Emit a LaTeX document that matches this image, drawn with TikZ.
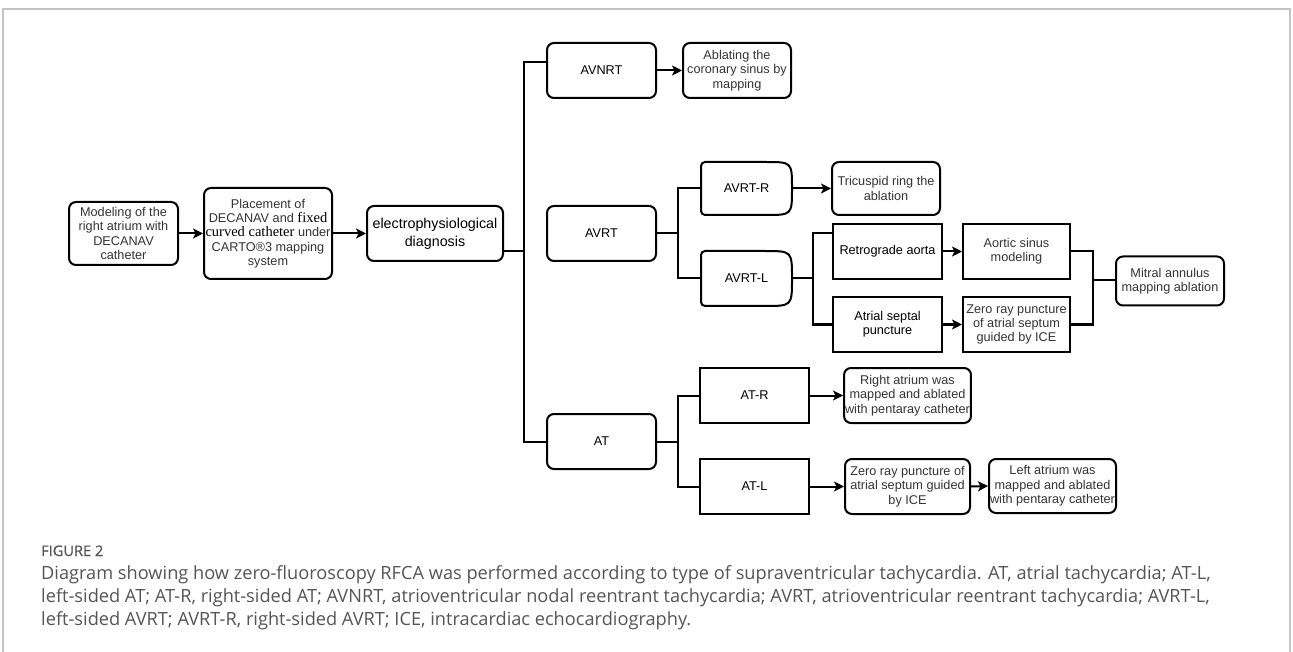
\documentclass[tikz,border=0pt]{standalone}
\usepackage{fontspec}
\setmainfont{Liberation Sans}
\newfontfamily\serifpart{Liberation Serif}
\newfontfamily\capfont{Open Sans}
\newfontfamily\capfontb[FakeBold=0.8]{Open Sans}
\usetikzlibrary{arrows.meta}
\definecolor{txtgray}{HTML}{333333}
\definecolor{capgray}{HTML}{555555}
\definecolor{framegray}{HTML}{C4C4C4}
\begin{document}
\begin{tikzpicture}[x=1pt,y=-1pt,
  base/.style={line width=2pt, align=center, inner sep=1pt, font=\fontsize{12.7}{14.3}\selectfont, text=black},
  rbox/.style={base, draw, rounded corners=7pt},
  sbox/.style={base, draw},
  dbox/.style={base, draw=none, outer sep=0pt},
  gtext/.style={text=txtgray},
  conn/.style={line width=2pt},
  arr/.style={conn, -{Stealth[length=10pt,width=10pt,inset=2.5pt]}},
  capfig/.style={font=\capfontb\fontsize{14.6}{16}\selectfont, text=capgray, inner sep=0pt},
  captext/.style={font=\capfont\fontsize{18.2}{20}\selectfont, text=capgray, inner sep=0pt}
]
\useasboundingbox (0,0) rectangle (1293,652);
\draw[framegray, line width=1.2pt] (3,652) -- (3,9) -- (1290,9) -- (1290,652);

% nodes
\node[rbox, gtext, minimum width=109pt, minimum height=63pt] (b1) at (123.5,233.5) {Modeling of the\\right atrium with\\DECANAV\\catheter};
\node[rbox, gtext, minimum width=128pt, minimum height=91pt] (b2) at (268,233.5) {Placement of\\DECANAV and {\serifpart\color{black}\fontsize{14.5}{14.3}\selectfont fixed}\\{\serifpart\color{black}\fontsize{14.5}{14.3}\selectfont curved catheter} under\\CARTO®3 mapping\\system};
\node[rbox, minimum width=136pt, minimum height=55pt, font=\fontsize{14.3}{17.7}\selectfont] (b3) at (435,233.5) {electrophysiological\\diagnosis};

\node[rbox, minimum width=109pt, minimum height=55pt] (avnrt) at (601.5,70.5) {AVNRT};
\node[rbox, gtext, minimum width=108pt, minimum height=55pt] (abl) at (737,70.5) {Ablating the\\coronary sinus by\\mapping};

\node[rbox, minimum width=109pt, minimum height=55pt] (avrt) at (601.5,233.5) {AVRT};
\node[dbox, minimum width=91pt, minimum height=53pt] (avrtr) at (746.5,188.5) {AVRT-R};
\node[dbox, minimum width=91pt, minimum height=55pt] (avrtl) at (746.5,278.5) {AVRT-L};
\node[rbox, gtext, minimum width=108pt, minimum height=53pt] (tri) at (886,188.5) {Tricuspid ring the\\ablation};
\node[sbox, minimum width=109pt, minimum height=55pt] (retro) at (887.5,251.5) {Retrograde aorta};
\node[sbox, minimum width=109pt, minimum height=55pt] (asp) at (887.5,324.5) {Atrial septal\\puncture};
\node[sbox, gtext, minimum width=107pt, minimum height=55pt] (aos) at (1016.5,251.5) {Aortic sinus\\modeling};
\node[sbox, gtext, minimum width=107pt, minimum height=55pt] (zr1) at (1016.5,324.5) {Zero ray puncture\\of atrial septum\\guided by ICE};
\node[rbox, gtext, minimum width=108pt, minimum height=49pt] (mitral) at (1170,281) {Mitral annulus\\mapping ablation};

\node[rbox, minimum width=109pt, minimum height=55pt] (at) at (601.5,441.5) {AT};
\node[sbox, minimum width=109pt, minimum height=55pt] (atr) at (754.5,395.5) {AT-R};
\node[sbox, minimum width=109pt, minimum height=55pt] (atl) at (754.5,486.5) {AT-L};
\node[rbox, gtext, minimum width=125pt, minimum height=55pt] (ra) at (907.5,395.5) {Right atrium was\\mapped and ablated\\with pentaray catheter};
\node[rbox, gtext, minimum width=125pt, minimum height=55pt] (zr2) at (907.5,486.5) {Zero ray puncture of\\atrial septum guided\\by ICE};
\node[rbox, gtext, minimum width=127pt, minimum height=54pt] (la) at (1052.5,486) {Left atrium was\\mapped and ablated\\with pentaray catheter};

% delay shapes
\draw[line width=2pt] ([xshift=-26.5pt]avrtr.north east) .. controls (avrtr.north east) .. (avrtr.east) .. controls (avrtr.south east) .. ([xshift=-26.5pt]avrtr.south east) [rounded corners=4pt] -- (avrtr.south west) -- (avrtr.north west) -- ([xshift=-26.5pt]avrtr.north east);
\draw[line width=2pt] ([xshift=-27.5pt]avrtl.north east) .. controls (avrtl.north east) .. (avrtl.east) .. controls (avrtl.south east) .. ([xshift=-27.5pt]avrtl.south east) [rounded corners=4pt] -- (avrtl.south west) -- (avrtl.north west) -- ([xshift=-27.5pt]avrtl.north east);

% connectors
\draw[arr] (b1.east) -- (b2.west);
\draw[arr] (b2.east) -- (b3.west);
\coordinate (tk) at (524,251);
\draw[conn] ([yshift=-17.5pt]b3.east) -- (tk);
\draw[conn] (tk) |- ([yshift=8.5pt]avnrt.west);
\draw[conn] (tk) |- (at.west);
\draw[arr] (avnrt.east) -- (abl.west);

\coordinate (j1) at (678,233.5);
\draw[conn] (avrt.east) -- (j1);
\draw[conn] (j1) |- (avrtr.west);
\draw[conn] (j1) |- (avrtl.west);
\draw[arr] (avrtr.east) -- (tri.west);

\coordinate (j2) at (813,278.5);
\draw[conn] (avrtl.east) -- (j2);
\draw[conn] (j2) |- ([yshift=18.5pt]retro.west);
\draw[conn] (j2) |- (asp.west);
\draw[arr] (retro.east) -- (aos.west);
\draw[arr] (asp.east) -- (zr1.west);

\coordinate (j3) at (1093,280);
\draw[conn] (aos.east) -| (j3);
\draw[conn] (zr1.east) -| (j3);
\draw[conn] (j3) -- (mitral.west |- j3);

\coordinate (j4) at (678,441.5);
\draw[conn] (at.east) -- (j4);
\draw[conn] (j4) |- (atr.west);
\draw[conn] (j4) |- (atl.west);
\draw[arr] (atr.east) -- (ra.west);
\draw[arr] (atl.east) -- (zr2.west);
\draw[arr] (zr2.east) -- (la.west);

% caption
\node[capfig, anchor=base west] (fig) at (41,556) {FIGURE 2};
\node[captext, anchor=base west] (cap1) at (41,579) {Diagram showing how zero-fluoroscopy RFCA was performed according to type of supraventricular tachycardia. AT, atrial tachycardia; AT-L,};
\node[captext, anchor=base west] (cap2) at (41,602) {left-sided AT; AT-R, right-sided AT; AVNRT, atrioventricular nodal reentrant tachycardia; AVRT, atrioventricular reentrant tachycardia; AVRT-L,};
\node[captext, anchor=base west] (cap3) at (41,625) {left-sided AVRT; AVRT-R, right-sided AVRT; ICE, intracardiac echocardiography.};
\end{tikzpicture}
\end{document}
